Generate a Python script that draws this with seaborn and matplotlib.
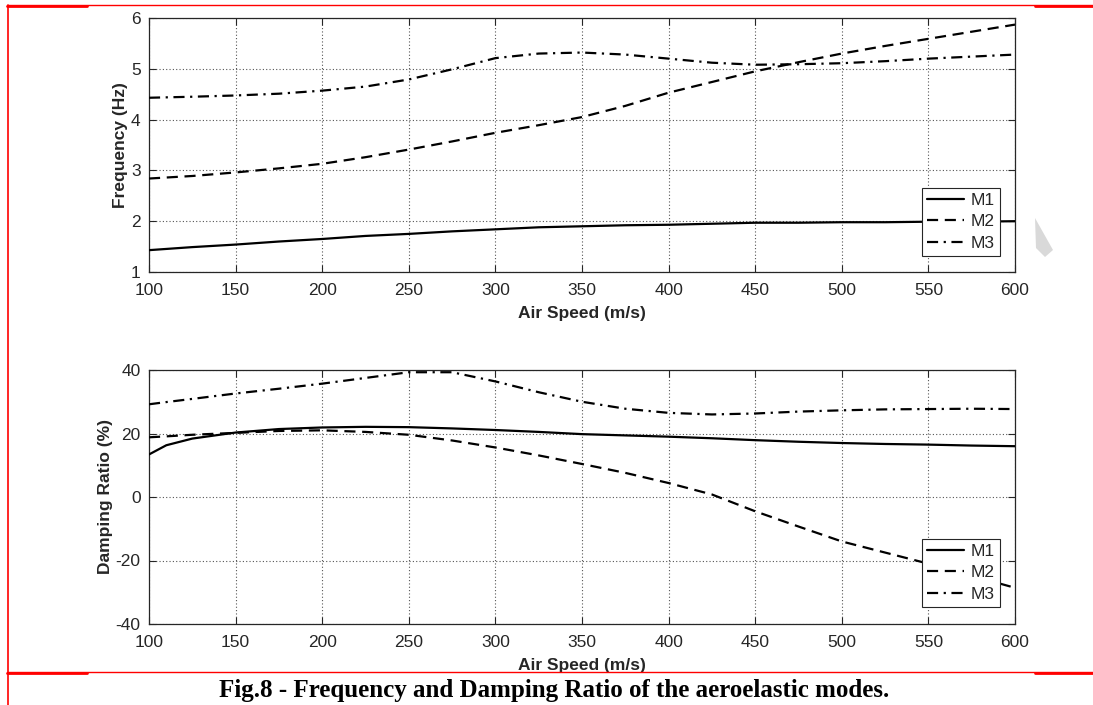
import numpy as np
import pandas as pd
import matplotlib
matplotlib.use("Agg")
import matplotlib.pyplot as plt
from matplotlib.patches import Rectangle, Polygon
from matplotlib.lines import Line2D
import seaborn as sns

# ---------------- data ----------------
speed_freq = [100, 125, 150, 175, 200, 225, 250, 275, 300, 325, 350, 375, 400,
              425, 450, 475, 500, 525, 550, 575, 600]
freq_m1 = [1.43, 1.49, 1.54, 1.60, 1.65, 1.71, 1.75, 1.80, 1.84, 1.88, 1.90, 1.92,
           1.93, 1.95, 1.97, 1.97, 1.98, 1.98, 1.99, 1.99, 2.00]
freq_m2 = [2.84, 2.89, 2.96, 3.04, 3.13, 3.26, 3.41, 3.57, 3.74, 3.89, 4.05, 4.27,
           4.53, 4.74, 4.95, 5.13, 5.30, 5.45, 5.59, 5.73, 5.87]
freq_m3 = [4.43, 4.45, 4.475, 4.51, 4.57, 4.65, 4.79, 4.99, 5.21, 5.30, 5.32, 5.28,
           5.20, 5.12, 5.08, 5.09, 5.11, 5.15, 5.20, 5.24, 5.28]

speed_damp = [100, 110, 125, 150, 175, 200, 225, 250, 275, 300, 325, 350, 375, 400,
              425, 450, 475, 500, 525, 550, 575, 600]
damp_m1 = [13.4, 16.3, 18.4, 20.3, 21.4, 21.9, 22.1, 22.0, 21.6, 21.1, 20.5, 19.8,
           19.4, 19.0, 18.5, 17.9, 17.4, 17.0, 16.7, 16.5, 16.2, 16.0]
damp_m2 = [18.8, 19.1, 19.6, 20.2, 20.8, 21.0, 20.5, 19.6, 17.8, 15.6, 13.1, 10.4,
           7.6, 4.4, 0.8, -4.5, -9.3, -14.0, -17.5, -21.0, -24.8, -28.6]
damp_m3 = [29.2, 29.9, 30.9, 32.6, 34.1, 35.7, 37.5, 39.3, 39.3, 36.4, 33.0, 30.0,
           27.8, 26.5, 26.0, 26.3, 26.9, 27.3, 27.6, 27.7, 27.8, 27.7]

modes = ["M1", "M2", "M3"]
x_ticks = [100, 150, 200, 250, 300, 350, 400, 450, 500, 550, 600]
freq_ticks = [1, 2, 3, 4, 5, 6]
damp_ticks = [-40, -20, 0, 20, 40]

caption = "Fig.8 - Frequency and Damping Ratio of the aeroelastic modes."

# ---------------- styling ----------------
sns.set_theme(style="white")
plt.rcParams["font.family"] = ["Liberation Sans", "DejaVu Sans"]
plt.rcParams["axes.unicode_minus"] = False

W, H = 1093, 705
fig = plt.figure(figsize=(W / 100, H / 100), dpi=100)
fig.patch.set_facecolor("white")

def fx(px):
    return px / W

def fy(py):
    return 1 - py / H

ax1 = fig.add_axes([fx(149), fy(272), fx(1015) - fx(149), fy(18) - fy(272)])
ax2 = fig.add_axes([fx(149), fy(624), fx(1015) - fx(149), fy(370) - fy(624)])

LW = 1.6
styles = {"M1": "-", "M2": (0, (5, 3)), "M3": (0, (5, 2.5, 1, 2.5))}

freq_df = pd.DataFrame({
    "speed": speed_freq * 3,
    "value": freq_m1 + freq_m2 + freq_m3,
    "mode": [m for m in modes for _ in speed_freq],
})
damp_df = pd.DataFrame({
    "speed": speed_damp * 3,
    "value": damp_m1 + damp_m2 + damp_m3,
    "mode": [m for m in modes for _ in speed_damp],
})

tick_col = "#262626"

def draw(ax, df, ylabel, ylim, yticks, leg_bottom):
    for m in modes:
        sub = df[df["mode"] == m]
        sns.lineplot(data=sub, x="speed", y="value", ax=ax, color="black",
                     linewidth=LW, linestyle=styles[m], label=m, legend=False,
                     zorder=3)
    ax.set_xlim(100, 600)
    ax.set_ylim(*ylim)
    ax.set_xticks(x_ticks)
    ax.set_yticks(yticks)
    ax.grid(True, linestyle=(0, (1, 2)), color="#555555", linewidth=0.8)
    ax.tick_params(axis="x", pad=8)
    ax.tick_params(axis="y", pad=6)
    ax.tick_params(direction="in", length=5, width=0.8, top=True, right=True,
                   bottom=True, left=True, labelsize=12.5, colors=tick_col,
                   labelcolor=tick_col)
    for s in ax.spines.values():
        s.set_color("#262626")
        s.set_linewidth(0.9)
    ax.set_xlabel("Air Speed (m/s)", fontsize=12.5, fontweight="bold",
                  color="#262626", labelpad=6)
    ax.set_ylabel(ylabel, fontsize=12.5, fontweight="bold", color="#262626",
                  labelpad=2)
    handles = [Line2D([0], [0], color="black", linewidth=LW, linestyle=styles[m])
               for m in modes]
    leg = ax.legend(handles, modes, loc="lower right",
                    bbox_to_anchor=(0.9827, leg_bottom), fontsize=12.5,
                    frameon=True, fancybox=False, framealpha=1,
                    edgecolor="#262626", handlelength=2.1, handletextpad=0.4,
                    borderpad=0.3, labelspacing=0.36, borderaxespad=0)
    leg.get_frame().set_linewidth(0.8)

draw(ax1, freq_df, "Frequency (Hz)", (1, 6), freq_ticks, 0.063)
draw(ax2, damp_df, "Damping Ratio (%)", (-40, 40), damp_ticks, 0.067)

# page decorations (red frame lines, white caption strip, grey mark)
fig.patches.append(Rectangle((0, 0), 1, fy(672), transform=fig.transFigure,
                             facecolor="white", edgecolor="none", zorder=5))
red = "#ff0000"
fig.add_artist(Line2D([fx(7), fx(1093)], [fy(5), fy(5)], color=red, lw=1.0, zorder=6))
fig.add_artist(Line2D([fx(7), fx(87)], [fy(5.5), fy(5.5)], color=red, lw=2.0, zorder=6))
fig.add_artist(Line2D([fx(1035), fx(1093)], [fy(5.5), fy(5.5)], color=red, lw=2.0, zorder=6))
fig.add_artist(Line2D([fx(7), fx(1093)], [fy(672), fy(672)], color=red, lw=1.0, zorder=6))
fig.add_artist(Line2D([fx(7), fx(87)], [fy(672.5), fy(672.5)], color=red, lw=2.0, zorder=6))
fig.add_artist(Line2D([fx(1035), fx(1093)], [fy(672.5), fy(672.5)], color=red, lw=2.0, zorder=6))
fig.add_artist(Line2D([fx(8), fx(8)], [fy(5), fy(705)], color=red, lw=1.2, zorder=6))
fig.patches.append(Polygon([(fx(1035), fy(218)), (fx(1053), fy(250)), (fx(1045), fy(257)),
                            (fx(1036), fy(248))], closed=True, transform=fig.transFigure,
                           facecolor="#d9d9d9", edgecolor="none", zorder=4))

fig.text(fx(554), fy(690), caption, ha="center", va="center", fontsize=18,
         fontweight="bold", family=["Liberation Serif", "DejaVu Serif"],
         color="black", zorder=7)

fig.savefig("out.png", dpi=100, facecolor="white")
